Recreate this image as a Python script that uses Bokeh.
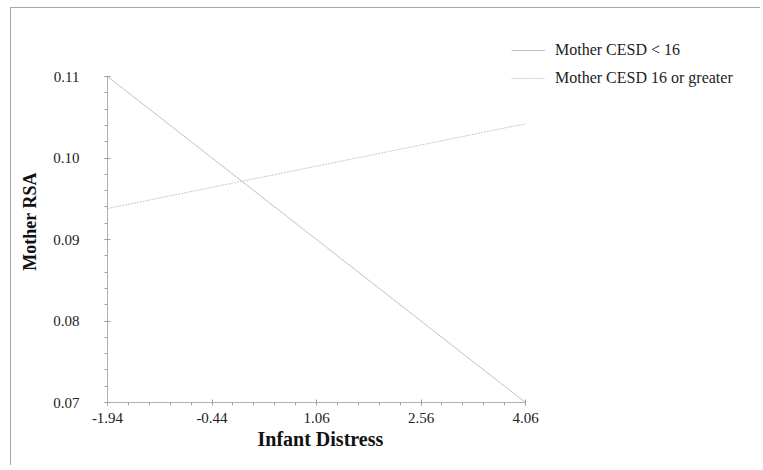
from bokeh.plotting import figure
from bokeh.models import FixedTicker, PrintfTickFormatter, Legend, LegendItem, Range1d, Title
from bokeh.embed import file_html
from bokeh.resources import INLINE

# data
infant_distress = [-1.94, 4.06]
rsa_cesd_low = [0.110, 0.070]
rsa_cesd_high = [0.0938, 0.1042]
x_ticks = [-1.94, -0.44, 1.06, 2.56, 4.06]
y_ticks = [0.07, 0.08, 0.09, 0.10, 0.11]
series_names = ["Mother CESD < 16", "Mother CESD 16 or greater"]

x_minor = [round(-1.94 + 0.3 * i, 2) for i in range(21)]
y_minor = [round(0.07 + 0.002 * i, 3) for i in range(21)]

FONT = "Liberation Serif"

W, H = 750, 458
BL, BR, BT, BB = 96, 4, 32, 64
frame_w = W - BL - BR
frame_h = H - BT - BB
# the axes span 418 px x 326 px; the frame is extended up/right to hold the legend
x0, x1 = infant_distress[0], infant_distress[-1]
y0, y1 = y_ticks[0], y_ticks[-1]
x_end = x0 + (x1 - x0) * frame_w / 418.0
y_end = y0 + (y1 - y0) * frame_h / 326.0

p = figure(width=W, height=H, output_backend="svg", toolbar_location=None,
           x_range=Range1d(x0, x_end), y_range=Range1d(y0, y_end),
           min_border_left=BL, min_border_right=BR, min_border_top=BT, min_border_bottom=BB,
           styles={"border-top": "1px solid #a8a8a8", "border-left": "1px solid #a8a8a8",
                   "margin-top": "7px", "margin-left": "10px"})
p.outline_line_color = None
p.grid.visible = False

r1 = p.line(infant_distress, rsa_cesd_low, line_color="#c2c2c2", line_width=1)
r2 = p.line(infant_distress, rsa_cesd_high, line_color="#c8c8c8", line_width=1, line_dash="2 1")

for ax in (p.xaxis[0], p.yaxis[0]):
    ax.axis_line_color = "#b0b0b0"
    ax.major_tick_line_color = "#a0a0a0"
    ax.minor_tick_line_color = "#a0a0a0"
    ax.major_label_text_font = FONT
    ax.major_label_text_font_size = "15px"
    ax.major_label_text_color = "#222222"
    ax.axis_label_text_font = FONT
    ax.axis_label_text_font_style = "bold"
    ax.axis_label_text_color = "#111111"
    ax.major_tick_in = 3
    ax.major_tick_out = 3
    ax.minor_tick_in = 0
    ax.minor_tick_out = 3

p.xaxis.bounds = (x0, x1)
p.yaxis.bounds = (y0, y1)
p.xaxis.ticker = FixedTicker(ticks=x_ticks, minor_ticks=x_minor)
p.yaxis.ticker = FixedTicker(ticks=y_ticks, minor_ticks=y_minor)
p.xaxis.formatter = PrintfTickFormatter(format="%.2f")
p.yaxis.formatter = PrintfTickFormatter(format="%.2f")
p.xaxis.major_label_standoff = 7
p.yaxis.major_label_standoff = 25
p.yaxis.axis_label = "Mother RSA"
p.yaxis.axis_label_text_font_size = "18px"
p.yaxis.axis_label_standoff = 10

# x axis title placed under the axis, centred on the axis span
p.add_layout(Title(text="Infant Distress", align="left", offset=150, standoff=0,
                   text_font=FONT, text_font_size="20px", text_font_style="bold",
                   text_color="#111111"), "below")

legend = Legend(items=[LegendItem(label=series_names[0], renderers=[r1]),
                       LegendItem(label=series_names[1], renderers=[r2])],
                location=(404, 314), padding=0, margin=0, spacing=8,
                glyph_width=34, glyph_height=20, label_height=20, label_standoff=10,
                label_text_font=FONT, label_text_font_size="16px", label_text_color="#222222",
                border_line_color=None, background_fill_alpha=0)
p.add_layout(legend, "center")

open("out.html", "w").write(file_html(p, INLINE))
